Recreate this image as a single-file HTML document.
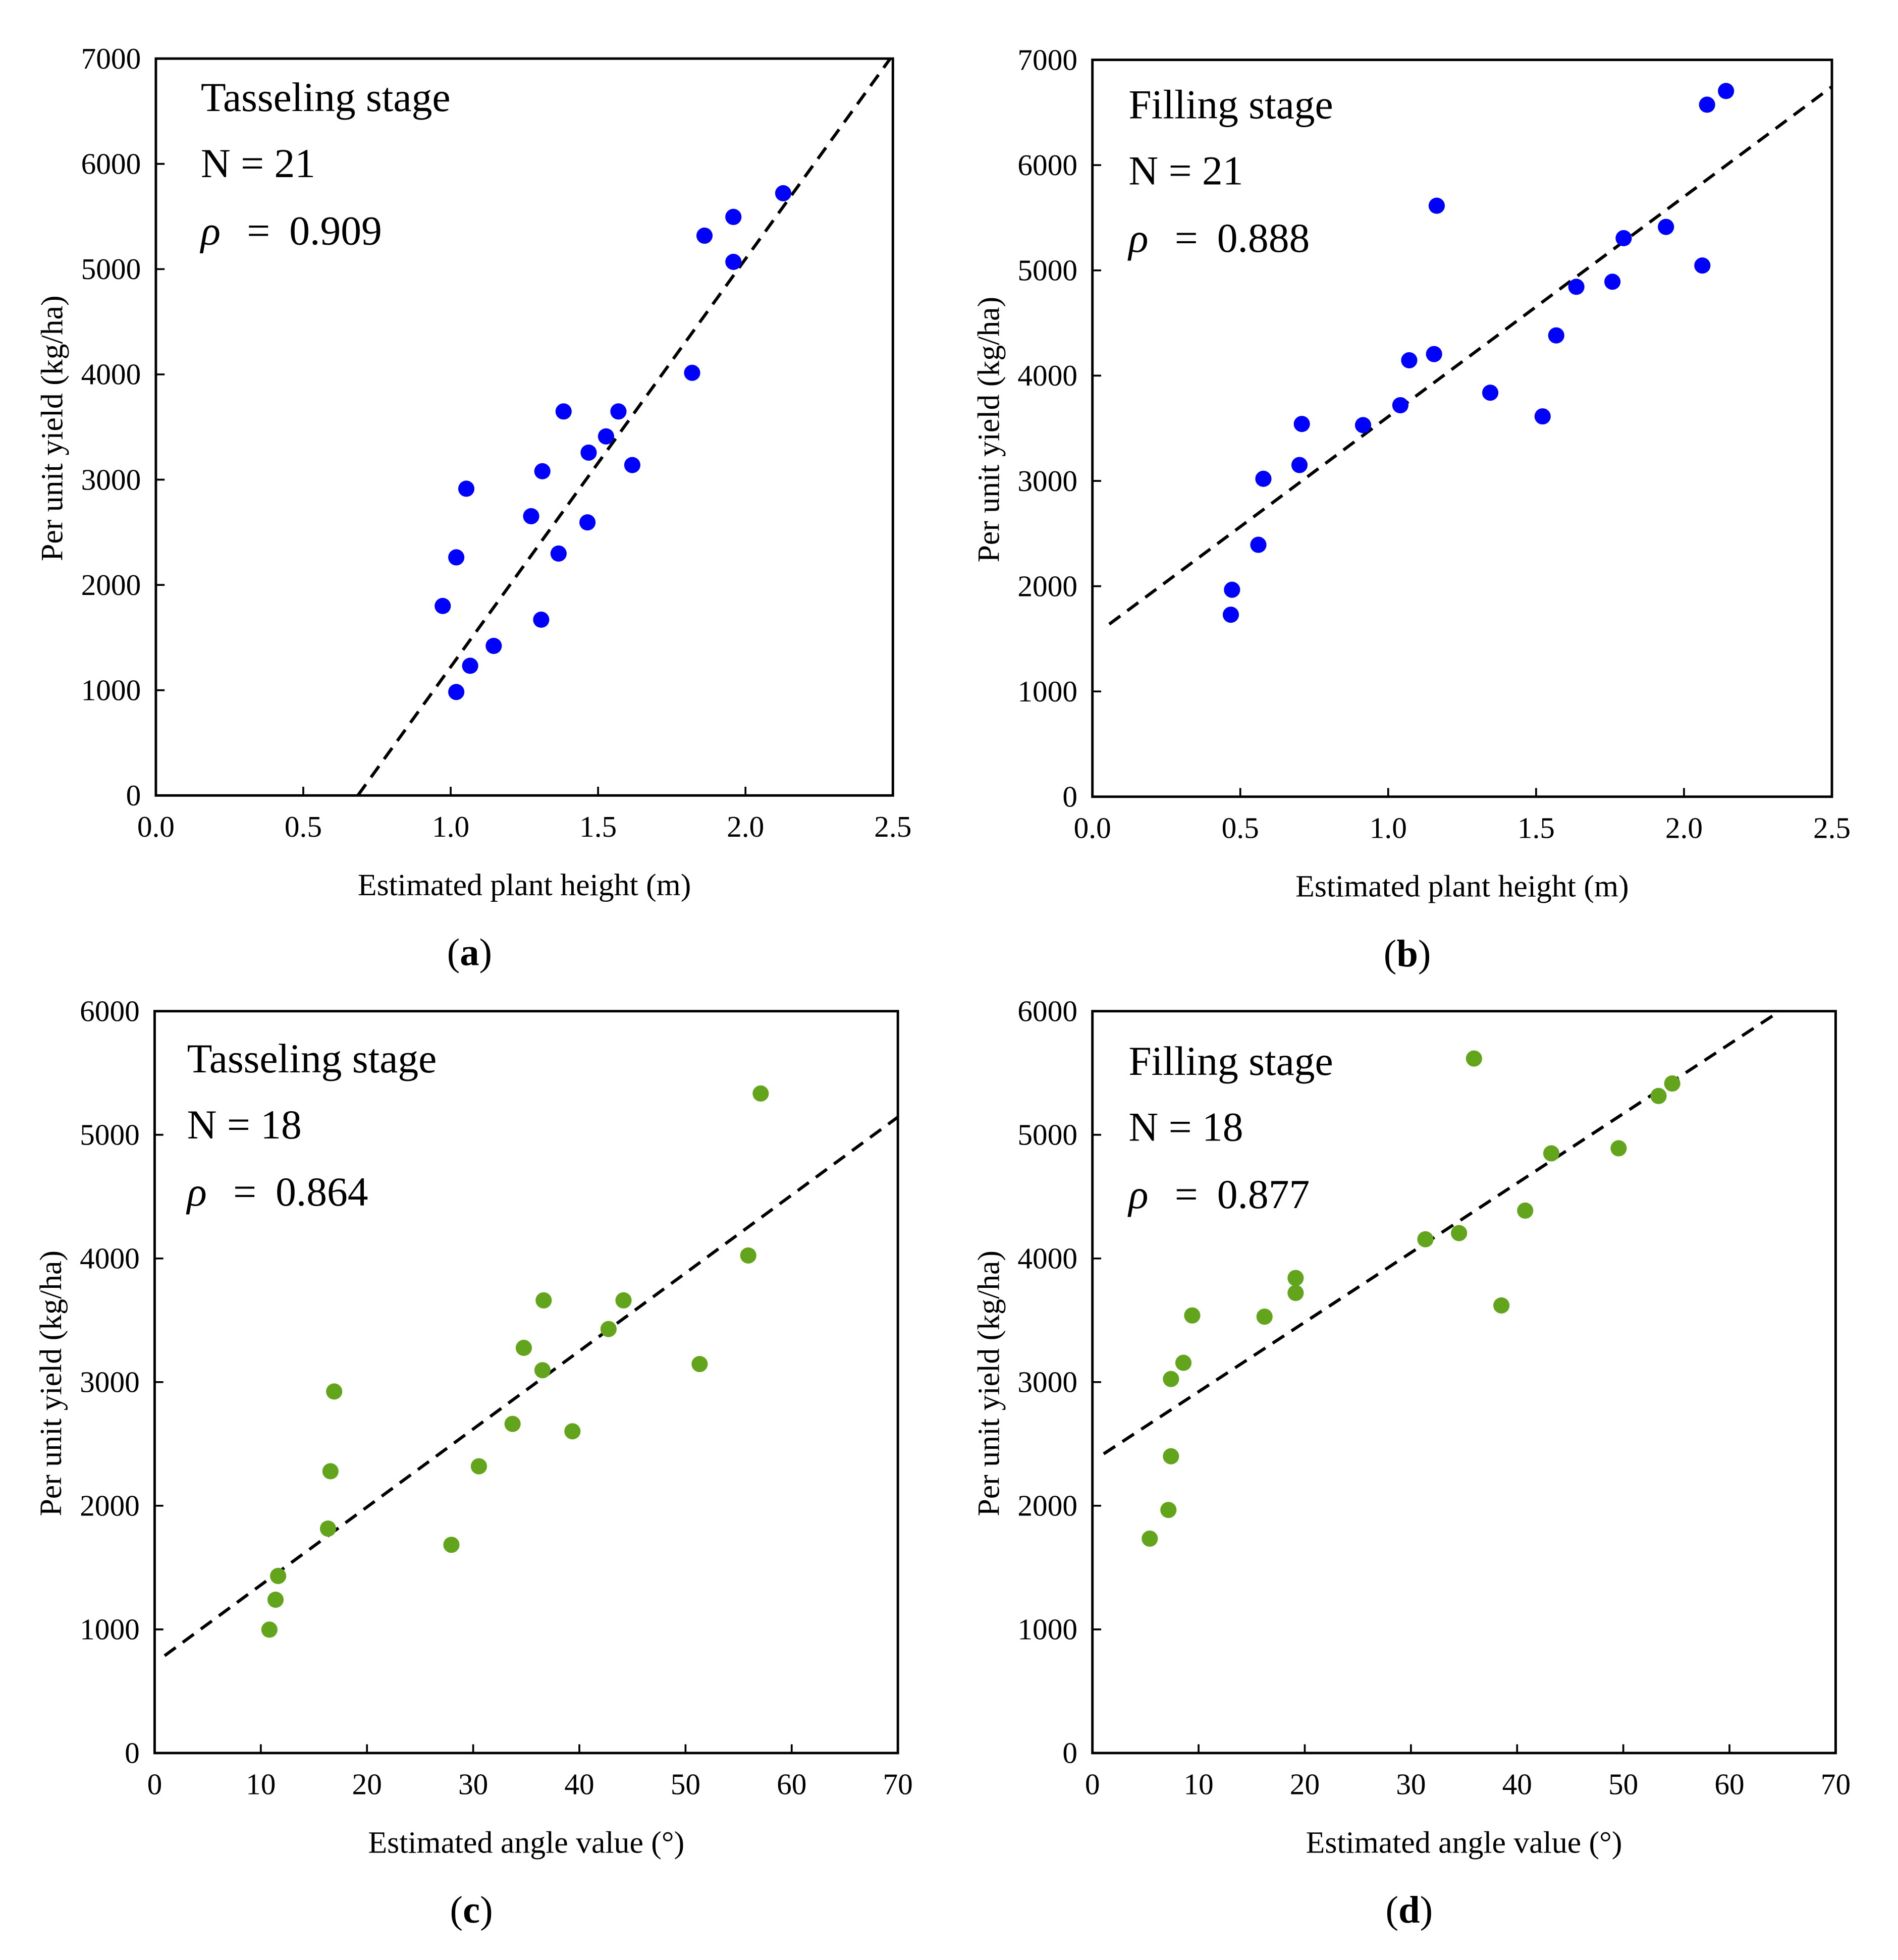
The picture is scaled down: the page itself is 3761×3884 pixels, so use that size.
<!DOCTYPE html>
<html><head><meta charset="utf-8"><style>
html,body{margin:0;padding:0;background:#fff}
svg{display:block;font-family:"Liberation Serif",serif}
</style></head><body>
<svg id="fig" width="3761" height="3884" viewBox="0 0 1522 1572" preserveAspectRatio="none" xmlns="http://www.w3.org/2000/svg"></svg>
<script>
const aX=[0.973,1.019,1.053,1.019,1.066,1.146,1.273,1.311,1.307,1.366,1.383,1.468,1.464,1.527,1.569,1.616,1.819,1.861,1.959,1.959,2.128];
const aY=[1800,2262,2914,983,1232,1421,2653,3080,1670,2298,3648,3257,2594,3411,3648,3139,4015,5318,5496,5069,5721];
const bX=[0.468,0.472,0.561,0.578,0.700,0.708,0.915,1.041,1.071,1.155,1.164,1.345,1.522,1.568,1.636,1.758,1.796,1.939,2.062,2.078,2.142];
const bY=[1729,1966,2393,3020,3151,3541,3530,3719,4146,4205,5614,3838,3613,4382,4844,4892,5306,5413,5046,6574,6704];
const cX=[10.81,11.39,11.63,16.33,16.56,16.91,27.95,30.54,33.71,34.77,36.53,36.64,39.35,42.75,44.16,51.33,55.91,57.08];
const cY=[998,1240,1432,1815,2279,2924,1684,2319,2662,3277,3096,3661,2602,3429,3661,3146,4024,5334];
const dX=[5.40,7.16,7.40,7.40,8.57,9.40,16.21,19.14,19.14,31.36,34.53,35.94,38.52,40.76,43.22,49.56,53.32,54.61];
const dY=[1734,1966,2400,3025,3156,3539,3529,3721,3842,4155,4205,5617,3620,4387,4850,4891,5314,5415];
const xTicksH=[0,0.5,1.0,1.5,2.0,2.5];
const xTicksA=[0,10,20,30,40,50,60,70];
const yTicks7=[0,1000,2000,3000,4000,5000,6000,7000];
const yTicks6=[0,1000,2000,3000,4000,5000,6000];
const fitA=[3876,-2655,0.685], fitB=[2090,1520,0.057], fitC=[63.08,728,0.94], fitD=[56.23,2360,1.06];

const NS="http://www.w3.org/2000/svg";
const svg=document.getElementById('fig');
function mk(tag,attrs,parent,text){const e=document.createElementNS(NS,tag);for(const k in attrs)e.setAttribute(k,attrs[k]);if(text!==undefined)e.textContent=text;parent.appendChild(e);return e;}

function panel(p){
  const g=mk('g',{},svg);
  
  
  const sx=v=>p.L+(v-p.x0)/(p.x1-p.x0)*(p.R-p.L);
  const sy=v=>p.B-(v-p.y0)/(p.y1-p.y0)*(p.B-p.T);
  const cp=mk('clipPath',{id:'clip'+p.id},g);
  mk('rect',{x:p.L,y:p.T,width:p.R-p.L,height:p.B-p.T},cp);
  p.xt.forEach(v=>{
    const t=mk('line',{x1:sx(v),x2:sx(v),y1:p.B,y2:p.B-7,stroke:'#000','stroke-width':1.5},g);
    
    
    const l=mk('text',{x:sx(v),y:p.B+33,'text-anchor':'middle','font-size':24},g,p.xfmt(v));
    
    
  });
  p.yt.forEach(v=>{
    const t=mk('line',{x1:p.L,x2:p.L+7,y1:sy(v),y2:sy(v),stroke:'#000','stroke-width':1.5},g);
    
    
    const l=mk('text',{x:p.L-12,y:sy(v)+8,'text-anchor':'end','font-size':24},g,String(v));
    
    
  });
  const fx0=p.fit[2], fx1=p.x1;
  const fl=mk('line',{x1:sx(fx0),y1:sy(p.fit[0]*fx0+p.fit[1]),x2:sx(fx1),y2:sy(p.fit[0]*fx1+p.fit[1]),stroke:'#000','stroke-width':2.5,'stroke-dasharray':'11,7','clip-path':'url(#clip'+p.id+')'},g);
  
  
  p.xs.forEach((v,i)=>{
    const c=mk('circle',{cx:sx(v),cy:sy(p.ys[i]),r:6.5,fill:p.color},g);
    
    
  });
  const fr=mk('rect',{x:p.L,y:p.T,width:p.R-p.L,height:p.B-p.T,fill:'none',stroke:'#000','stroke-width':2},g);
  
  
  const t1=mk('text',{x:p.tx,y:p.ty,'font-size':33},g,p.stage);
  
  
  const t2=mk('text',{x:p.tx,y:p.ty+53,'font-size':33},g,'N = '+p.n);
  
  
  const t3=mk('text',{x:p.tx,y:p.ty+107,'font-size':33},g);
  
  
  mk('tspan',{'font-style':'italic'},t3,'ρ');
  mk('tspan',{x:p.tx+37},t3,'=');
  mk('tspan',{x:p.tx+71},t3,p.rho);
  const xt=mk('text',{x:(p.L+p.R)/2,y:p.B+80,'text-anchor':'middle','font-size':25},g,p.xtitle);
  
  
  const cy=(p.T+p.B)/2+1;
  const yx=p.L-75;
  const yt=mk('text',{x:yx,y:cy,'text-anchor':'middle','font-size':25,transform:'rotate(-90 '+yx+' '+cy+')'},g,'Per unit yield (kg/ha)');
  
  
  const pl=mk('text',{x:(p.L+p.R)/2-44,y:p.B+136,'text-anchor':'middle','font-size':31},g);
  
  
  mk('tspan',{},pl,'(');
  mk('tspan',{'font-weight':'bold'},pl,p.id);
  mk('tspan',{},pl,')');
}
const fmtH=v=>v.toFixed(1), fmtA=v=>String(v);
panel({id:'a',L:125,R:716,T:47,B:638,x0:0,x1:2.5,y0:0,y1:7000,xt:xTicksH,yt:yTicks7,xfmt:fmtH,xs:aX,ys:aY,fit:fitA,color:'#0000ff',tx:161,ty:89,stage:'Tasseling stage',n:21,rho:'0.909',xtitle:'Estimated plant height (m)'});
panel({id:'b',L:876,R:1469,T:48,B:639,x0:0,x1:2.5,y0:0,y1:7000,xt:xTicksH,yt:yTicks7,xfmt:fmtH,xs:bX,ys:bY,fit:fitB,color:'#0000ff',tx:905,ty:95,stage:'Filling stage',n:21,rho:'0.888',xtitle:'Estimated plant height (m)'});
panel({id:'c',L:124,R:720,T:811,B:1406,x0:0,x1:70,y0:0,y1:6000,xt:xTicksA,yt:yTicks6,xfmt:fmtA,xs:cX,ys:cY,fit:fitC,color:'#62a51c',tx:150,ty:860,stage:'Tasseling stage',n:18,rho:'0.864',xtitle:'Estimated angle value (°)'});
panel({id:'d',L:876,R:1472,T:811,B:1406,x0:0,x1:70,y0:0,y1:6000,xt:xTicksA,yt:yTicks6,xfmt:fmtA,xs:dX,ys:dY,fit:fitD,color:'#62a51c',tx:905,ty:862,stage:'Filling stage',n:18,rho:'0.877',xtitle:'Estimated angle value (°)'});
</script>
</body></html>
